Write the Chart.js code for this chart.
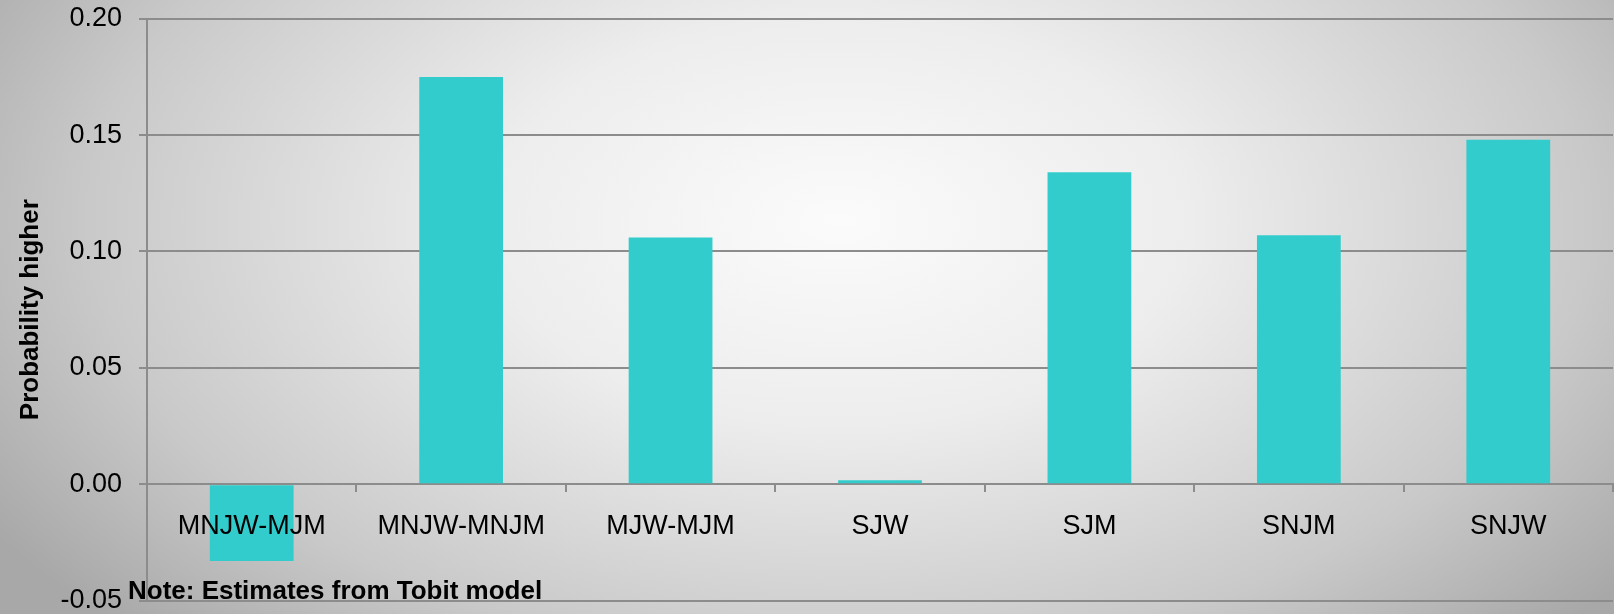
<!DOCTYPE html>
<html>
<head>
<meta charset="utf-8">
<script src="https://cdn.jsdelivr.net/npm/chart.js@4"></script>
<style>
  html, body { margin: 0; padding: 0; }
  #wrap {
    position: relative;
    width: 1614px;
    height: 614px;
    background: radial-gradient(ellipse 62% 95% at 52% 36%, #fbfbfb 0%, #ededed 35%, #c9c9c9 75%, #a8a8a8 100%);
  }
</style>
</head>
<body>
<div id="wrap"><canvas id="chart"></canvas></div>
<script>
const categories = ["MNJW-MJM", "MNJW-MNJM", "MJW-MJM", "SJW", "SJM", "SNJM", "SNJW"];
const probHigher = [-0.033, 0.175, 0.106, 0.0017, 0.134, 0.107, 0.148];
const yTicks = [-0.05, 0.00, 0.05, 0.10, 0.15, 0.20];
const yTitle = "Probability higher";
const noteText = "Note: Estimates from Tobit model";

const font = "'Liberation Sans', Arial, sans-serif";
const lineGray = "#8c8c8c";

// footnote sits over the bottom left corner of the plot
const notePlugin = {
  id: "note",
  afterDraw(chart) {
    const ctx = chart.ctx;
    ctx.save();
    ctx.font = `bold 26px ${font}`;
    ctx.fillStyle = "#000";
    ctx.textBaseline = "alphabetic";
    ctx.fillText(noteText, 128, 599);
    ctx.restore();
  }
};

new Chart(document.getElementById("chart"), {
  type: "bar",
  data: {
    labels: categories,
    datasets: [{
      data: probHigher,
      backgroundColor: "#33CCCC",
      borderWidth: 0,
      barPercentage: 0.4,
      categoryPercentage: 1.0
    }]
  },
  options: {
    responsive: true,
    maintainAspectRatio: false,
    animation: false,
    layout: { padding: { top: 18.7, right: 1, bottom: 13.3, left: 0 } },
    plugins: {
      legend: { display: false },
      tooltip: { enabled: false }
    },
    scales: {
      x: {
        position: { y: 0 },
        grid: {
          offset: true,
          drawOnChartArea: false,
          drawTicks: true,
          tickLength: 7,
          color: lineGray,
          lineWidth: 2
        },
        border: { display: true, color: lineGray, width: 2 },
        ticks: {
          z: 1, // labels go over the negative bar, like the original
          color: "#000",
          padding: 19.5,
          maxRotation: 0,
          autoSkip: false,
          font: { family: font, size: 27 }
        }
      },
      y: {
        min: yTicks[0],
        max: yTicks[yTicks.length - 1],
        afterBuildTicks(scale) {
          scale.ticks = yTicks.map(v => ({ value: v }));
        },
        afterFit(scale) {
          scale.width = 147;
          // tick padding should not push the plot in vertically
          scale.paddingTop = 13;
          scale.paddingBottom = 13;
        },
        grid: {
          color: lineGray,
          lineWidth: 2,
          drawTicks: true,
          tickLength: 8
        },
        border: { display: true, color: lineGray, width: 2 },
        ticks: {
          color: "#000",
          padding: 17,
          font: { family: font, size: 27, lineHeight: 1 },
          callback: v => Number(v).toFixed(2)
        },
        title: {
          display: true,
          text: yTitle,
          color: "#000",
          padding: { top: 15, bottom: 0 },
          font: { family: font, size: 26, weight: "bold" }
        }
      }
    }
  },
  plugins: [notePlugin]
});
</script>
</body>
</html>
